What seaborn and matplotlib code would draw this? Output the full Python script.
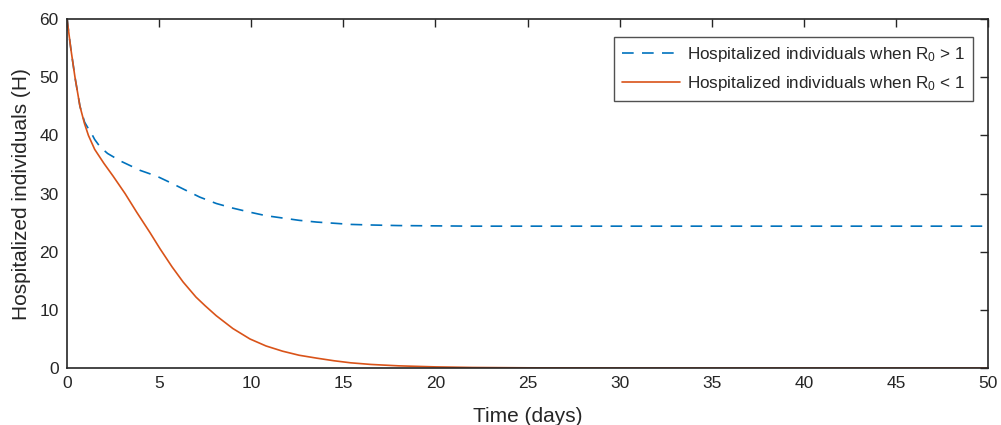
import numpy as np
import pandas as pd
import matplotlib
matplotlib.use('Agg')
import matplotlib.pyplot as plt
import seaborn as sns

# values
t_above = [0, 0.2, 0.43, 0.7, 0.95, 1.15, 1.3, 1.5, 1.8, 2.2, 2.9, 3.5, 3.96, 4.5, 5.0,
           5.6, 6.3, 7.2, 8.1, 9.0, 9.93, 10.8, 11.7, 12.6, 13.56, 14.5, 15.4, 16.5,
           18, 20, 22, 25, 30, 35, 40, 45, 50]
h_above = [60, 55, 50, 45, 42.3, 41.2, 40.5, 39.3, 38.0, 36.9, 35.6, 34.7, 34.0, 33.4, 32.8,
           31.9, 30.8, 29.4, 28.3, 27.5, 26.8, 26.2, 25.8, 25.4, 25.1, 24.9, 24.7, 24.6,
           24.5, 24.45, 24.4, 24.4, 24.4, 24.4, 24.4, 24.4, 24.4]
t_below = [0, 0.2, 0.43, 0.7, 0.95, 1.16, 1.5, 2.0, 2.5, 3.15, 3.78, 4.5, 5.05, 5.7, 6.3,
           7.0, 7.5, 8.1, 9.0, 9.93, 10.8, 11.7, 12.6, 13.56, 14.5, 15.4, 16.5, 18,
           20, 22, 25, 30, 35, 40, 45, 50]
h_below = [60, 55, 50, 45, 42.0, 40.0, 37.6, 35.2, 33.0, 30.0, 26.8, 23.3, 20.5, 17.4, 14.8,
           12.2, 10.7, 9.0, 6.8, 5.0, 3.8, 2.9, 2.2, 1.7, 1.25, 0.9, 0.62, 0.38,
           0.2, 0.1, 0.04, 0.01, 0, 0, 0, 0]
labels = ['Hospitalized individuals when R$_0$ > 1',
          'Hospitalized individuals when R$_0$ < 1']

df = pd.DataFrame({
    'Time': t_above + t_below,
    'H': h_above + h_below,
    'case': [labels[0]] * len(t_above) + [labels[1]] * len(t_below),
})

sns.set_style('white')
plt.rcParams['font.family'] = ['Liberation Sans', 'DejaVu Sans']
plt.rcParams['mathtext.default'] = 'regular'

fig = plt.figure(figsize=(10.01, 4.25), dpi=100)
ax = fig.add_axes([0.067, 0.134, 0.92, 0.821])

sns.lineplot(data=df, x='Time', y='H', hue='case', style='case',
             palette=['#0072BD', '#D95319'], dashes=[(7, 5), ''],
             linewidth=1.2, ax=ax, legend=True, sort=False)

ax.set_xlim(0, 50)
ax.set_ylim(0, 60)
ax.set_xticks(range(0, 51, 5))
ax.set_yticks(range(0, 61, 10))
ax.set_xlabel('Time (days)', fontsize=15, color='#262626', labelpad=11)
ax.set_ylabel('Hospitalized individuals (H)', fontsize=15, color='#262626', labelpad=6)
ax.tick_params(direction='in', length=6, width=1, top=True, right=True,
               labelsize=12.5, colors='#262626', pad=6)
for s in ax.spines.values():
    s.set_color('#262626')
    s.set_linewidth(1.2)

leg = ax.legend(loc='upper right', bbox_to_anchor=(0.9837, 0.948), borderaxespad=0,
                fontsize=12.3, frameon=True, fancybox=False, edgecolor='#262626',
                handlelength=3.4, handletextpad=0.4, borderpad=0.45, labelspacing=0.6)
leg.get_frame().set_linewidth(1.0)

fig.savefig('out.png', dpi=100)
